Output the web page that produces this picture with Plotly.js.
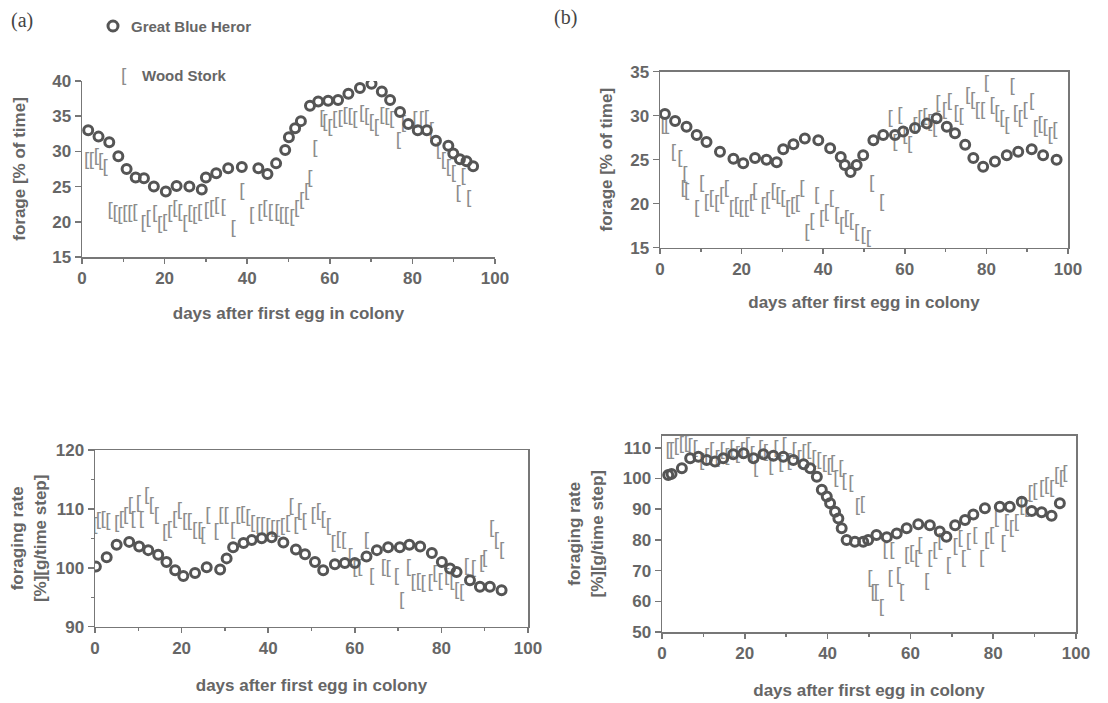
<!DOCTYPE html>
<html><head><meta charset="utf-8">
<script src="https://cdn.plot.ly/plotly-3.0.1.min.js"></script>
<style>html,body{margin:0;padding:0;background:#fff}#chart{width:1108px;height:703px}</style>
</head><body><div id="chart"></div>
<script>
// ---- Data ----
// Panel (a) top: forage [% of time]
const aTopHeronX = [1.5,4,6.6,8.8,10.8,13,15,17.4,20.3,22.9,26,29,30,32.5,35.4,38.7,42.7,44.9,47,49.2,50.1,51.6,53,55.2,57.2,59.6,62,64.5,67.3,70.1,72.6,74.6,77,79,81.3,83.5,85.7,88.7,89.9,91.5,93.1,94.7];
const aTopHeronY = [33.0,32.1,31.3,29.3,27.5,26.3,26.2,25.0,24.3,25.1,25.0,24.6,26.3,26.9,27.6,27.8,27.6,26.8,28.3,30.2,32.0,33.3,34.3,36.5,37.1,37.2,37.3,38.2,39.0,39.6,38.5,37.3,35.6,33.9,33.0,33.0,31.5,30.8,29.7,28.9,28.6,27.9];
const aTopStorkX = [1.1,2.3,3.5,4.5,5.6,6.8,8,9.2,10.4,11.6,12.8,14.8,16,17.6,18.8,20,21.3,22.5,23.7,24.9,26.1,27.3,28.5,30.1,31.4,32.6,34.2,36.6,38.7,41.1,43.1,44.3,45.6,47.2,48.3,49.5,50.8,52,53.2,54.4,55.2,56.4,58.1,58.8,60,61.2,62.5,63.7,64.9,66.1,67.7,68.9,70.1,71.3,72.6,73.8,75,76.6,77.8,80.6,82.2,83.4,84.6,86.3,87.5,88.7,89.9,91.1,92.3,93.6];
const aTopStorkY = [28.8,28.8,29.3,28.6,27.8,21.7,21.2,21.0,21.2,21.2,21.4,19.8,20.5,21.2,19.6,20.0,21.2,21.9,21.4,19.8,21.2,21.0,21.4,21.7,21.9,22.3,22.1,19.1,24.3,21.0,21.4,21.9,21.4,21.4,21.0,21.0,20.7,21.9,23.1,24.3,26.2,30.5,34.7,34.2,33.5,34.5,34.7,35.2,35.0,34.5,35.4,35.0,34.2,33.5,35.2,35.0,34.5,31.6,34.0,34.5,34.5,34.7,33.0,30.2,28.8,27.8,26.9,24.1,26.4,23.4];

// Panel (b) top: forage [% of time]
const bTopHeronX = [1.2,3.7,6.5,9,11.4,14.7,18,20.4,23.3,26.1,28.6,30.2,32.7,35.5,38.8,41.7,44.3,45.3,46.7,48.2,49.8,52.3,54.7,57.6,59.6,62.5,65.4,67.8,70.3,72.3,74.8,76.8,79.2,82.1,85,87.8,91.1,93.9,97.2];
const bTopHeronY = [30.2,29.4,28.75,27.8,27.0,25.9,25.1,24.6,25.2,25.0,24.7,26.2,26.75,27.4,27.2,26.3,25.3,24.4,23.6,24.4,25.5,27.2,27.8,27.8,28.2,28.6,29.1,29.7,28.75,28.0,26.7,25.2,24.2,24.8,25.5,25.9,26.2,25.5,25.0];
const bTopStorkX = [0.8,1.6,3.3,4.9,6.1,5.7,6.5,9,10.2,11.4,12.6,13.9,15.1,16.3,17.5,18.7,19.9,21.2,22.4,23.2,25.3,26.4,27.7,28.9,30.1,31.3,32.5,33.7,34.8,36,37.2,38.4,39.6,40.8,42,43.3,44.5,45.7,46.9,48.2,49.8,51.1,51.9,54.3,56.4,57.6,58.8,60,61.2,62.5,63.7,64.9,66.1,67.3,68.1,69.7,70.9,72.6,73.8,75.4,76.6,77.8,79.1,80,81.4,82.6,83.8,85,86.3,87.1,88.3,89.5,91.1,92,93.2,94.4,95.6,96.8];
const bTopStorkY = [28.9,28.9,25.9,25.2,23.3,21.7,21.4,19.5,22.3,20.2,20.6,20.0,21.0,21.7,19.5,19.8,19.5,19.5,20.2,21.4,19.8,20.4,21.4,21.0,20.6,19.5,19.8,20.0,21.7,16.8,18.0,21.0,18.3,19.0,20.6,18.7,17.6,18.3,18.0,16.8,16.4,16.1,22.3,20.2,29.7,27.0,30.1,27.8,26.7,28.9,29.7,29.9,29.3,28.6,31.4,30.6,31.6,30.3,29.9,32.35,31.8,30.6,30.6,33.7,31.2,30.3,29.7,28.9,33.3,30.3,29.7,30.6,31.6,28.6,29.0,28.7,27.8,28.3];

// Panel (a) bottom: foraging rate [%][g/time step]
const aBotHeronX = [0.2,2.7,5,7.9,10.2,12.3,14.6,16.5,18.5,20.4,23.1,25.8,28.9,30.4,31.9,34.3,36.2,38.5,40.8,43.5,46.4,48.5,50.8,52.7,55.4,57.7,60,62.7,65.1,67.7,70.4,72.6,75.1,77.8,80.1,82,83.5,86.6,88.9,91.2,93.9];
const aBotHeronY = [100.2,101.8,103.9,104.4,103.6,103.0,102.2,101.0,99.6,98.6,99.1,100.1,99.7,101.6,103.5,104.2,104.7,105.0,105.2,104.3,103.1,102.3,101.0,99.6,100.6,100.8,100.8,101.9,103.0,103.5,103.5,103.9,103.6,102.5,101.0,99.9,99.3,97.9,96.8,96.8,96.2];
const aBotStorkX = [0,0.8,1.9,3,5,6.1,7.1,8.2,8.8,10,10.7,11.9,13,14.2,16.1,17.2,18.4,19.5,20.7,21.8,23,24.2,24.9,26.1,28,29.1,30.3,31.8,33,34.1,35.3,36.4,37.6,38.7,39.9,41,42.2,43.3,44.5,45.3,46.4,47.2,48.3,50.4,51.6,52.7,53.9,55,56.2,57.4,58.9,60,61.2,62.7,63.9,66.6,67.7,69.6,70.8,72.4,73.5,74.7,75.8,77.4,78.5,79.7,81.2,82.4,83.5,84.7,85.8,87.4,89.3,90,91.6,92.7,93.9];
const aBotStorkY = [107.3,108.1,108.3,107.9,107.5,108.3,109.0,110.7,108.3,110.9,108.3,112.4,110.7,109.0,106.1,106.6,108.3,109.8,107.9,107.9,106.4,106.4,105.6,109.0,106.2,109.0,109.0,106.4,109.0,109.1,108.6,107.5,107.3,107.3,107.0,106.8,106.8,107.0,107.5,110.4,107.3,109.6,107.9,109.0,109.6,108.3,107.0,104.2,104.9,104.6,101.9,99.9,100.1,104.6,98.5,100.1,99.9,98.5,94.5,100.1,97.6,97.8,97.4,97.6,99.0,97.8,98.5,97.8,96.2,95.8,100.3,99.9,100.8,101.6,106.7,104.6,103.0];

// Panel (b) bottom: foraging rate [%][g/time step]
const bBotHeronX = [1.5,2.3,4.8,6.8,8.8,10.8,12.8,14.8,17.2,19.7,22.1,24.5,26.9,29.3,31.7,34.2,35.8,37.4,38.6,39.8,40.6,41.8,42.6,43.4,44.6,46.6,48.6,49.8,51.8,54.3,56.7,59.1,61.9,64.7,67.1,68.7,70.8,73.2,75.2,78,81.6,84,86.9,89.3,91.7,94.1,96.1];
const bBotHeronY = [101.1,101.5,103.3,106.6,107.1,106.0,105.5,106.6,107.9,108.2,106.6,107.9,107.4,107.1,106.0,104.6,103.3,100.6,96.3,94.1,91.9,89.2,87.0,83.8,80.0,79.4,79.4,80.0,81.6,80.9,82.1,83.8,85.1,84.8,82.7,81.0,84.8,86.5,88.3,90.3,90.8,90.8,92.4,89.4,89.0,87.9,91.9];
const bBotStorkX = [1.5,2.3,3.5,4.7,5.9,6.8,8,9.6,10.8,12,13.3,14.5,15.7,16.9,18.2,19.4,20.6,21.8,22.6,23.8,25,26.3,27.5,28.7,29.5,30.7,31.9,33.1,34.3,35.5,36.7,37.9,39.2,40.4,41.2,42,43.2,44,45.6,47.2,48.4,50.2,51,51.8,53,53.9,55.5,55.1,57.1,57.9,59.1,60.3,61.5,62.3,63.9,64.7,65.9,67.1,69.2,70.8,72,72.8,74,75.6,77.2,78.4,79.6,80.8,82.4,83.2,84.4,85.6,86.9,88.1,88.9,90.1,91.7,92.9,94.1,95.3,96.5,97.3];
const bBotStorkY = [109.3,109.3,110.4,111.0,111.5,110.4,109.9,105.5,107.1,109.3,106.6,109.3,107.4,109.9,107.9,109.3,110.9,108.0,103.3,109.9,108.6,104.0,109.9,104.9,110.9,105.5,109.3,106.6,108.6,109.3,106.6,106.0,104.9,104.0,104.9,100.0,103.3,99.0,98.5,90.8,91.5,67.5,63.1,63.1,58.2,76.7,76.7,67.5,68.6,63.1,75.1,75.6,74.0,78.3,66.4,74.0,76.7,79.4,71.8,77.8,80.5,74.0,79.4,81.6,74.0,79.9,81.6,87.0,79.0,85.9,83.8,85.9,90.8,90.2,95.2,95.7,96.8,97.9,96.8,101.1,100.0,101.6];

// ---- Styling ----
const INK = '#555555';
const STORK = '#8c8c8c';
const FONT = 'Liberation Sans, Arial, sans-serif';
const tickFont = {family: FONT, size: 17, color: '#666', weight: 'bold'};
const titleFont = {family: FONT, size: 17, color: '#666', weight: 'bold'};

function heron(x, y, xa, ya) {
  return {x: x, y: y, xaxis: xa, yaxis: ya, type: 'scatter', mode: 'markers', showlegend: false,
    marker: {symbol: 'circle-open', size: 9, color: INK, line: {width: 3, color: INK}}, hoverinfo: 'x+y'};
}
function stork(x, y, xa, ya) {
  return {x: x, y: y, xaxis: xa, yaxis: ya, type: 'scatter', mode: 'text', showlegend: false,
    text: x.map(() => '['), textposition: 'middle center',
    textfont: {family: FONT, size: 19, color: STORK}, hoverinfo: 'x+y'};
}

function xAx(domain, anchor, mirror, standoff) {
  return {domain: domain, anchor: anchor, range: [0, 100], dtick: 20, tick0: 0,
    showline: true, linecolor: '#777', linewidth: 1.5, mirror: mirror,
    ticks: 'outside', ticklen: 5, tickcolor: '#777', tickwidth: 1.5,
    minor: {dtick: 10, ticks: 'outside', ticklen: 3, tickcolor: '#777'},
    showgrid: false, zeroline: false, tickfont: tickFont,
    title: {text: 'days after first egg in colony', font: titleFont, standoff: standoff}};
}
function yAx(domain, anchor, range, dtick, mirror, title, standoff, minor) {
  const o = {domain: domain, anchor: anchor, range: range, dtick: dtick, tick0: 0,
    showline: true, linecolor: '#777', linewidth: 1.5, mirror: mirror,
    ticks: 'outside', ticklen: 6, tickcolor: '#777', tickwidth: 1.5,
    showgrid: false, zeroline: false, tickfont: tickFont,
    title: {text: title, font: titleFont, standoff: standoff}};
  if (minor) o.minor = {dtick: minor, ticks: 'outside', ticklen: 3, tickcolor: '#777'};
  return o;
}

const data = [
  stork(aTopStorkX, aTopStorkY, 'x', 'y'),
  heron(aTopHeronX, aTopHeronY, 'x', 'y'),
  stork(bTopStorkX, bTopStorkY, 'x2', 'y2'),
  heron(bTopHeronX, bTopHeronY, 'x2', 'y2'),
  stork(aBotStorkX, aBotStorkY, 'x3', 'y3'),
  heron(aBotHeronX, aBotHeronY, 'x3', 'y3'),
  stork(bBotStorkX, bBotStorkY, 'x4', 'y4'),
  heron(bBotHeronX, bBotHeronY, 'x4', 'y4')
];

const W = 1108, H = 703;
const px = v => v / W, py = v => 1 - v / H;

const layout = {
  width: W, height: H, margin: {l: 0, r: 0, t: 0, b: 0},
  paper_bgcolor: '#fff', plot_bgcolor: 'rgba(0,0,0,0)', showlegend: false,
  xaxis:  xAx([px(82), px(495)], 'y', false, 20),
  yaxis:  yAx([py(257), py(81)], 'x', [15, 40], 5, false, 'forage [% of time]', 22),
  xaxis2: xAx([px(660), px(1068)], 'y2', true, 18),
  yaxis2: yAx([py(247.7), py(71.7)], 'x2', [15, 35], 5, true, 'forage [% of time]', 13),
  xaxis3: xAx([px(95), px(528)], 'y3', true, 22),
  yaxis3: yAx([py(626.7), py(450)], 'x3', [90, 120], 10, true, 'foraging rate<br>[%][g/time step]', 5, 5),
  xaxis4: xAx([px(662), px(1076)], 'y4', true, 22),
  yaxis4: yAx([py(632), py(435.5)], 'x4', [50, 114], 10, true, 'foraging rate<br>[%][g/time step]', 15),
  shapes: [
    {type: 'circle', xref: 'paper', yref: 'paper', x0: px(108), x1: px(118), y0: py(31), y1: py(21),
     line: {color: INK, width: 3}}
  ],
  annotations: [
    {text: '(a)', xref: 'paper', yref: 'paper', x: px(9), y: py(20), xanchor: 'left', yanchor: 'middle', showarrow: false,
     font: {family: 'Liberation Serif, Times New Roman, serif', size: 20, color: '#444'}},
    {text: '(b)', xref: 'paper', yref: 'paper', x: px(552), y: py(18), xanchor: 'left', yanchor: 'middle', showarrow: false,
     font: {family: 'Liberation Serif, Times New Roman, serif', size: 20, color: '#444'}},
    {text: 'Great Blue Heror', xref: 'paper', yref: 'paper', x: px(129), y: py(26), xanchor: 'left', yanchor: 'middle', showarrow: false,
     font: {family: FONT, size: 15, color: '#666', weight: 'bold'}},
    {text: '[', xref: 'paper', yref: 'paper', x: px(124), y: py(74), xanchor: 'center', yanchor: 'middle', showarrow: false,
     font: {family: FONT, size: 19, color: STORK}},
    {text: 'Wood Stork', xref: 'paper', yref: 'paper', x: px(140), y: py(75), xanchor: 'left', yanchor: 'middle', showarrow: false,
     font: {family: FONT, size: 15, color: '#666', weight: 'bold'}}
  ]
};

Plotly.newPlot('chart', data, layout, {staticPlot: true, displayModeBar: false});
</script>
</body></html>
